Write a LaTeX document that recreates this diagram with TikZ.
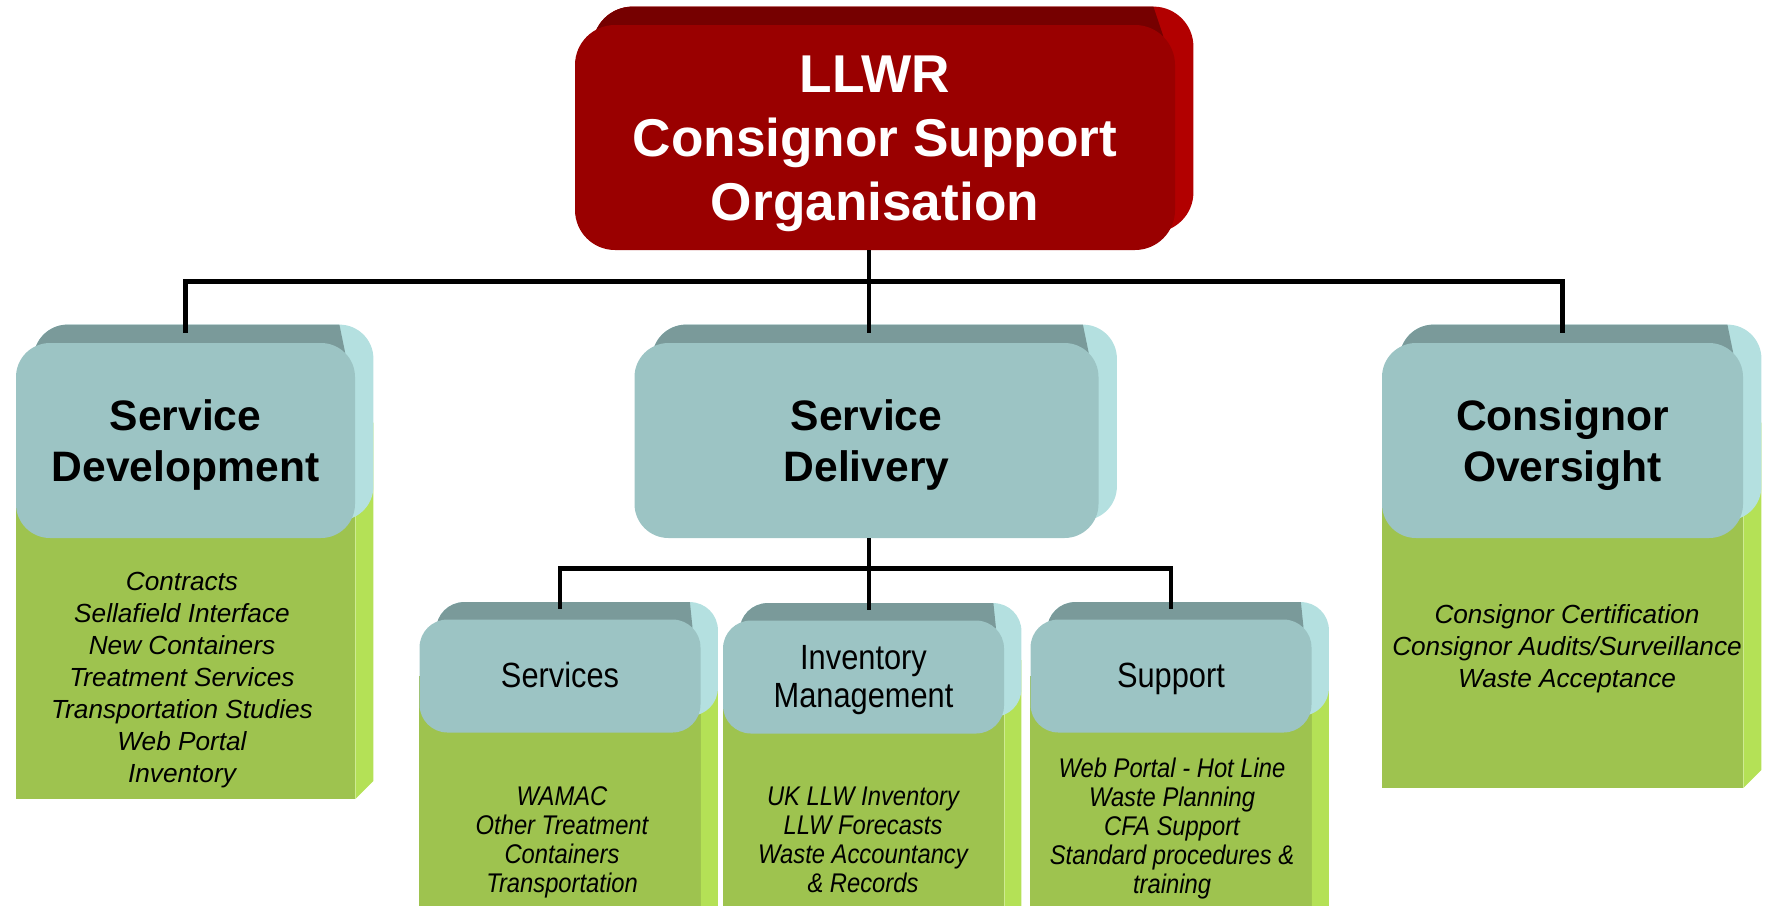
\documentclass[tikz,border=0pt]{standalone}
\usepackage{fontspec}
\setmainfont{Liberation Sans}
\newfontfamily\narrowfont{Liberation Sans}[FakeStretch=0.88]
\usepackage{tikz}
\usetikzlibrary{positioning, backgrounds, calc}

\definecolor{redfront}{RGB}{154, 0, 0}
\definecolor{redtop}{RGB}{118, 0, 0}
\definecolor{redside}{RGB}{178, 0, 0}
\definecolor{tealfront}{RGB}{156, 196, 196}
\definecolor{tealtop}{RGB}{122, 154, 154}
\definecolor{tealside}{RGB}{180, 224, 224}
\definecolor{leaf}{RGB}{158, 195, 79}
\definecolor{leafside}{RGB}{180, 225, 86}

% struts so that every line sits the same way
\newcommand{\ts}{\rule[-6pt]{0pt}{31pt}}
\newcommand{\bs}{\rule[-5pt]{0pt}{25.2pt}}
\newcommand{\us}{\rule[-3.8pt]{0pt}{19.1pt}}

\tikzstyle{chief} = [rectangle, rounded corners=20pt, minimum width=300pt, minimum height=112.5pt, inner sep=0pt, align=center, fill=redfront, text=white, font=\bfseries\fontsize{26.6}{32}\selectfont]
\tikzstyle{branch} = [rectangle, rounded corners=17pt, minimum height=97.5pt, inner sep=0pt, align=center, fill=tealfront, font=\bfseries\fontsize{21.3}{25.3}\selectfont]
\tikzstyle{unit} = [rectangle, rounded corners=14pt, minimum width=140.5pt, minimum height=56.5pt, inner sep=0pt, align=center, fill=tealfront, font=\narrowfont\fontsize{17.5}{19.2}\selectfont]
\tikzstyle{duties} = [align=center, inner sep=0pt, font=\itshape\fontsize{13.1}{16}\selectfont]
\tikzstyle{tasks} = [align=center, inner sep=0pt, font=\narrowfont\itshape\fontsize{13.5}{14.5}\selectfont]
\tikzstyle{link} = [line width=2.2pt, black]

% 3D slab behind a node: node, top colour, side colour, depth, corner radius
\newcommand{\slab}[5]{%
\begin{scope}[on background layer]
  \fill[#3, rounded corners=#5] ($(#1.south west)+(#4,#4)$) rectangle ($(#1.north east)+(#4,#4)$);
  \begin{scope}
    \clip[rounded corners=#5] ($(#1.south west)+(#4,#4)$) rectangle ($(#1.north east)+(#4,#4)$);
    \fill[#2] ($(#1.north west)+(-20pt,-#5)$) -- ($(#1.north east)+(-0.3*#5,-0.3*#5)$) -- ($(#1.north east)+(#4-#5,#4)$) -- ++(0,20pt) -- ($(#1.north west)+(-20pt,#4+20pt)$) -- cycle;
  \end{scope}
\end{scope}}

% green block under a node: node, bottom (y), depth
\newcommand{\greenbody}[3]{%
\begin{scope}[on background layer]
  \fill[leaf] (#1.west) rectangle (#1.east |- 0,#2);
  \fill[leafside] (#1.east) -- ++(#3,#3) -- ($(#1.east |- 0,#2)+(#3,#3)$) -- (#1.east |- 0,#2) -- cycle;
\end{scope}}

\begin{document}
\begin{tikzpicture}[x=0.5pt, y=-0.5pt]
\useasboundingbox (0,0) rectangle (1765,905);

\node[chief] (llwr) at (875,137.5) {\ts LLWR\\\ts Consignor Support\\\ts Organisation};

\node[branch, minimum width=169.5pt] (sd) at (185.5,440.5) {\bs Service\\\bs Development};
\node[branch, minimum width=232pt] (sdel) at (866.5,440.5) {\bs Service\\\bs Delivery};
\node[branch, minimum width=180.5pt] (co) at (1562.5,440.5) {\bs Consignor\\\bs Oversight};

\node[unit] (svc) at (560,676) {\us Services};
\node[unit] (inv) at (863.5,677) {\us Inventory\\\us Management};
\node[unit] (sup) at (1171,676) {\us Support};

\slab{llwr}{redtop}{redside}{9pt}{20pt}

\greenbody{sd}{799}{9pt}
\greenbody{co}{788}{9pt}
\greenbody{svc}{930}{8.5pt}
\greenbody{inv}{930}{8.5pt}
\greenbody{sup}{930}{8.5pt}

\slab{sd}{tealtop}{tealside}{9pt}{17pt}
\slab{sdel}{tealtop}{tealside}{9pt}{17pt}
\slab{co}{tealtop}{tealside}{9pt}{17pt}
\slab{svc}{tealtop}{tealside}{8.5pt}{14pt}
\slab{inv}{tealtop}{tealside}{8.5pt}{14pt}
\slab{sup}{tealtop}{tealside}{8.5pt}{14pt}

\node[duties] (sdtext) at (182,680) {Contracts\\Sellafield Interface\\New Containers\\Treatment Services\\Transportation Studies\\Web Portal\\Inventory};
\node[duties] (cotext) at (1567,649) {Consignor Certification\\Consignor Audits/Surveillance\\Waste Acceptance};
\node[tasks] (svctext) at (562,842) {WAMAC\\Other Treatment\\Containers\\Transportation};
\node[tasks] (invtext) at (863,840) {UK LLW Inventory\\LLW Forecasts\\Waste Accountancy\\\& Records};
\node[tasks] (suptext) at (1172,829) {Web Portal - Hot Line\\Waste Planning\\CFA Support\\Standard procedures \&\\training};

\draw[link] (llwr.south -| 869,0) -- ++(0,31) coordinate (hub);
\draw[link] (hub) -| ([yshift=5pt]sd.north);
\draw[link] (hub) -| ([yshift=5pt]co.north);
\draw[link] (hub) -- ([yshift=5pt]hub |- sdel.north);

\draw[link] (hub |- sdel.south) -- ++(0,30) coordinate (hub2);
\draw[link] (hub2) -| ([yshift=5pt]svc.north);
\draw[link] (hub2) -| ([yshift=5pt]sup.north);
\draw[link] (hub2) -- ([yshift=5pt]hub2 |- inv.north);

\end{tikzpicture}
\end{document}
